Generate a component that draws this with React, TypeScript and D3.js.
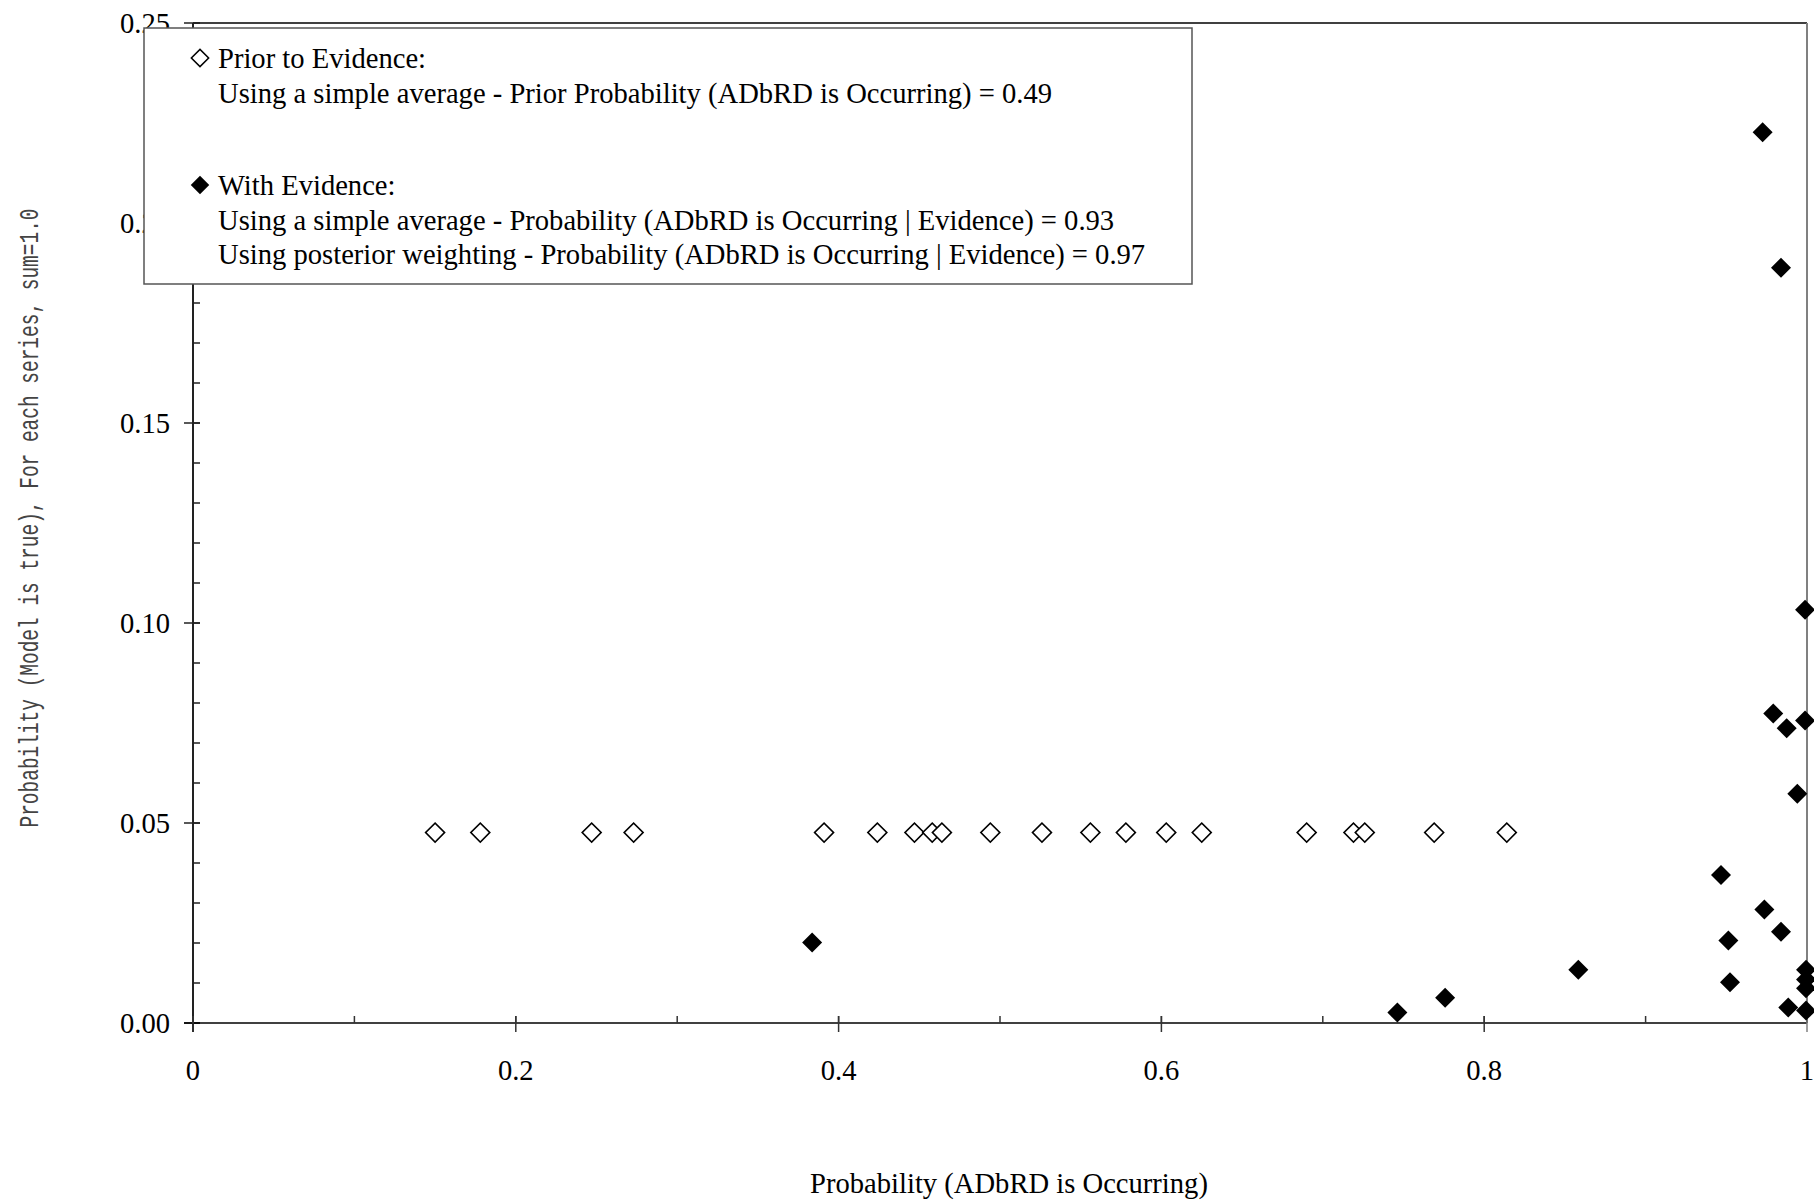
import React from "react";
import * as d3 from "d3";

// prior to evidence: every model weighted equally
const priorX = [0.150, 0.178, 0.247, 0.273, 0.391, 0.424, 0.447, 0.458, 0.464, 0.494,
  0.526, 0.556, 0.578, 0.603, 0.625, 0.690, 0.719, 0.726, 0.769, 0.814];
const priorY = [0.0476, 0.0476, 0.0476, 0.0476, 0.0476, 0.0476, 0.0476, 0.0476, 0.0476, 0.0476,
  0.0476, 0.0476, 0.0476, 0.0476, 0.0476, 0.0476, 0.0476, 0.0476, 0.0476, 0.0476];

// with evidence: posterior weight of each model
const evidenceX = [0.9725, 0.9839, 0.9988, 0.9791, 0.9874, 0.9988, 0.9940, 0.9467, 0.9736, 0.9839,
  0.9513, 0.9523, 0.8583, 0.3836, 0.7462, 0.7758, 0.9994, 0.9994, 0.9994, 0.9884, 0.9994];
const evidenceY = [0.2227, 0.1888, 0.1033, 0.0774, 0.0737, 0.0756, 0.0573, 0.0370, 0.0284, 0.0228,
  0.0206, 0.0102, 0.0133, 0.0201, 0.0026, 0.0063, 0.0133, 0.0109, 0.0087, 0.0039, 0.0031];

const xTicks = [0, 0.2, 0.4, 0.6, 0.8, 1];
const xTickLabels = ["0", "0.2", "0.4", "0.6", "0.8", "1"];
const yTicks = [0, 0.05, 0.1, 0.15, 0.2, 0.25];
const yTickLabels = ["0.00", "0.05", "0.10", "0.15", "0.20", "0.25"];

const legendEntries = [
  {
    marker: "open",
    lines: ["Prior to Evidence:", "Using a simple average - Prior Probability (ADbRD is Occurring) = 0.49"],
  },
  {
    marker: "filled",
    lines: [
      "With Evidence:",
      "Using a simple average - Probability (ADbRD is Occurring | Evidence) = 0.93",
      "Using posterior weighting - Probability (ADbRD is Occurring | Evidence) = 0.97",
    ],
  },
];

const WIDTH = 1814;
const HEIGHT = 1202;
const FONT = "'Liberation Serif', 'Times New Roman', serif";
const FONT_SIZE = "28.6px";

const Chart = () => {
  const svgRef = React.useRef<SVGSVGElement>(null);

  React.useEffect(() => {
    const svg = d3.select(svgRef.current);
    svg.selectAll("*").remove();

    const left = 193, right = 1807, top = 23, bottom = 1023;
    const x = d3.scaleLinear().domain([0, 1]).range([left, right]);
    const y = d3.scaleLinear().domain([0, 0.25]).range([bottom, top]);

    // plot frame top / right
    svg.append("line")
      .attr("x1", left).attr("x2", right).attr("y1", top).attr("y2", top)
      .attr("stroke", "#000").attr("stroke-width", 1.5);
    svg.append("line")
      .attr("x1", right).attr("x2", right).attr("y1", top).attr("y2", bottom)
      .attr("stroke", "#808080").attr("stroke-width", 2);

    // y axis
    const yAxis = svg.append("g");
    yAxis.append("line")
      .attr("x1", left).attr("x2", left).attr("y1", top).attr("y2", bottom + 9)
      .attr("stroke", "#222").attr("stroke-width", 2);
    const yMinor = d3.range(0, 26).map(i => i / 100);
    yAxis.selectAll("line.minor")
      .data(yMinor)
      .enter()
      .append("line")
      .attr("class", "minor")
      .attr("x1", left).attr("x2", left + 7)
      .attr("y1", d => y(d)).attr("y2", d => y(d))
      .attr("stroke", "#222").attr("stroke-width", 1.5);
    yAxis.selectAll("line.major")
      .data(yTicks)
      .enter()
      .append("line")
      .attr("class", "major")
      .attr("x1", left - 9).attr("x2", left + 7)
      .attr("y1", d => y(d)).attr("y2", d => y(d))
      .attr("stroke", "#222").attr("stroke-width", 1.5);
    yAxis.selectAll("text")
      .data(yTicks)
      .enter()
      .append("text")
      .attr("x", 170)
      .attr("y", d => y(d) + 9.5)
      .attr("text-anchor", "end")
      .style("font-family", FONT)
      .style("font-size", FONT_SIZE)
      .text((d, i) => yTickLabels[i]);

    // x axis
    const xAxis = svg.append("g");
    xAxis.append("line")
      .attr("x1", left - 9).attr("x2", right).attr("y1", bottom).attr("y2", bottom)
      .attr("stroke", "#000").attr("stroke-width", 1.5);
    const xMinor = d3.range(0, 11).map(i => i / 10);
    xAxis.selectAll("line.minor")
      .data(xMinor)
      .enter()
      .append("line")
      .attr("class", "minor")
      .attr("x1", d => x(d)).attr("x2", d => x(d))
      .attr("y1", bottom - 7).attr("y2", bottom)
      .attr("stroke", "#333").attr("stroke-width", 1.5);
    xAxis.selectAll("line.major")
      .data(xTicks)
      .enter()
      .append("line")
      .attr("class", "major")
      .attr("x1", d => x(d)).attr("x2", d => x(d))
      .attr("y1", bottom - 7).attr("y2", bottom + 9)
      .attr("stroke", (d, i) => (i === xTicks.length - 1 ? "#808080" : "#333"))
      .attr("stroke-width", 1.5);
    xAxis.selectAll("text")
      .data(xTicks)
      .enter()
      .append("text")
      .attr("x", d => x(d))
      .attr("y", 1080)
      .attr("text-anchor", "middle")
      .style("font-family", FONT)
      .style("font-size", FONT_SIZE)
      .text((d, i) => xTickLabels[i]);

    // axis titles
    svg.append("text")
      .attr("x", 1009)
      .attr("y", 1193)
      .attr("text-anchor", "middle")
      .style("font-family", FONT)
      .style("font-size", FONT_SIZE)
      .text("Probability (ADbRD is Occurring)");
    svg.append("text")
      .attr("transform", "translate(38, 518) rotate(-90)")
      .attr("text-anchor", "middle")
      .attr("textLength", 619)
      .attr("lengthAdjust", "spacingAndGlyphs")
      .attr("fill", "#444")
      .style("font-family", "'Liberation Mono', monospace")
      .style("font-size", "28px")
      .text("Probability (Model is true), For each series, sum=1.0");

    // points
    const diamond = d3.symbol().type(d3.symbolSquare);
    svg.append("g")
      .selectAll("path")
      .data(priorX.map((v, i) => [v, priorY[i]]))
      .enter()
      .append("path")
      .attr("d", diamond.size(180)())
      .attr("transform", d => `translate(${x(d[0])}, ${y(d[1])}) rotate(45)`)
      .attr("fill", "#fff")
      .attr("stroke", "#000")
      .attr("stroke-width", 1.6);
    svg.append("g")
      .selectAll("path")
      .data(evidenceX.map((v, i) => [v, evidenceY[i]]))
      .enter()
      .append("path")
      .attr("d", diamond.size(200)())
      .attr("transform", d => `translate(${x(d[0])}, ${y(d[1])}) rotate(45)`)
      .attr("fill", "#000");

    // legend
    const legend = svg.append("g");
    legend.append("rect")
      .attr("x", 144).attr("y", 28)
      .attr("width", 1048).attr("height", 256)
      .attr("fill", "#fff")
      .attr("stroke", "#555")
      .attr("stroke-width", 1.5);
    const lineH = 34.7;
    const entryStart = 58, entryGap = 127;
    const entries = legend.selectAll("g.entry")
      .data(legendEntries)
      .enter()
      .append("g")
      .attr("class", "entry")
      .attr("transform", (d, i) => `translate(0, ${entryStart + i * entryGap})`);
    entries.append("path")
      .attr("d", d => diamond.size(d.marker === "open" ? 150 : 170)())
      .attr("transform", "translate(200, 0) rotate(45)")
      .attr("fill", d => (d.marker === "open" ? "#fff" : "#000"))
      .attr("stroke", "#000")
      .attr("stroke-width", d => (d.marker === "open" ? 1.5 : 0));
    entries.selectAll("text")
      .data(d => d.lines)
      .enter()
      .append("text")
      .attr("x", 218)
      .attr("y", (d, i) => 10 + i * lineH)
      .style("font-family", FONT)
      .style("font-size", FONT_SIZE)
      .text(d => d);
  }, []);

  return <svg ref={svgRef} width={WIDTH} height={HEIGHT} style={{ position: "absolute", left: 0, top: 0, background: "#fff" }}></svg>;
};

export default function App() {
  return <Chart />;
}
